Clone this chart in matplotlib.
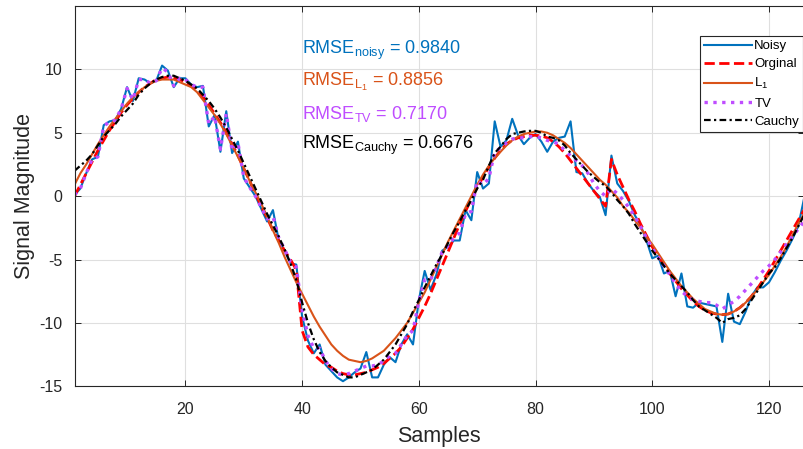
import numpy as np
import matplotlib
matplotlib.use("Agg")
import matplotlib.pyplot as plt

plt.rcParams['font.family'] = ['Liberation Sans', 'DejaVu Sans']
plt.rcParams['mathtext.default'] = 'regular'
plt.rcParams['axes.unicode_minus'] = False

samples = np.arange(1, 127)

noisy = [0.1, 0.6, 1.8, 2.9, 3.1, 5.6, 5.9, 6.0, 6.9, 8.6,
         7.5, 9.3, 9.2, 8.9, 9.1, 10.3, 9.9, 8.6, 9.3, 9.3,
         8.8, 8.6, 8.7, 5.5, 6.4, 3.5, 6.7, 3.4, 4.3, 1.4,
         0.7, 0.0, -1.0, -2.0, -1.1, -3.5, -4.3, -5.3, -5.4, -9.5,
         -11.4, -12.4, -11.7, -13.3, -13.8, -14.3, -14.6, -14.3, -13.9, -13.6,
         -12.3, -14.3, -14.3, -13.3, -12.7, -13.1, -11.7, -10.9, -11.7, -8.2,
         -5.9, -7.4, -6.2, -4.3, -4.0, -3.5, -3.5, -1.1, -1.9, 1.9,
         0.6, 1.0, 5.9, 3.9, 4.4, 6.1, 4.8, 4.1, 4.6, 4.9,
         4.3, 3.5, 4.3, 4.6, 4.7, 5.9, 1.9, 1.8, 1.0, 0.4,
         -0.05, -1.5, 3.2, 1.0, 0.4, -0.4, -1.5, -2.3, -3.5, -4.9,
         -4.7, -6.1, -5.9, -7.9, -6.1, -8.7, -8.8, -8.4, -8.5, -8.6,
         -8.7, -11.5, -7.7, -9.9, -10.1, -9.1, -7.9, -7.2, -7.2, -6.8,
         -6.0, -5.1, -4.3, -3.4, -2.4, -0.2]

original = [0.0, 0.9, 1.8, 2.7, 3.6, 4.4, 5.2, 5.9, 6.6, 7.2,
            7.7, 8.2, 8.6, 8.9, 9.2, 9.3, 9.4, 9.3, 9.2, 9.0,
            8.7, 8.3, 7.8, 7.2, 6.5, 5.8, 5.0, 4.1, 3.2, 2.2,
            1.2, 0.2, -0.8, -1.7, -2.7, -3.5, -4.3, -5.0, -5.8, -10.6,
            -11.9, -12.5, -12.9, -13.3, -13.5, -13.8, -14.0, -14.1, -14.1, -14.0,
            -13.9, -13.7, -13.5, -13.2, -12.8, -12.4, -11.9, -11.2, -10.5, -9.6,
            -8.7, -7.7, -6.6, -5.5, -4.4, -3.3, -2.2, -1.2, -0.2, 0.7,
            1.5, 2.3, 3.0, 3.6, 4.1, 4.4, 4.6, 4.7, 4.8, 4.8,
            4.75, 4.6, 4.3, 3.9, 3.4, 2.8, 2.2, 1.6, 1.0, 0.4,
            -0.2, -0.8, 2.9, 1.7, 0.7, -0.3, -1.2, -2.2, -3.1, -4.0,
            -4.7, -5.4, -6.1, -6.7, -7.3, -7.8, -8.3, -8.7, -9.0, -9.2,
            -9.3, -9.35, -9.3, -9.1, -8.8, -8.4, -7.9, -7.3, -6.6, -5.9,
            -5.1, -4.3, -3.5, -2.7, -1.9, -1.1]

l1 = [0.9, 1.8, 2.5, 3.3, 4.1, 4.8, 5.5, 6.1, 6.7, 7.3,
      7.8, 8.2, 8.6, 8.9, 9.1, 9.2, 9.2, 9.2, 9.0, 8.8,
      8.6, 8.2, 7.6, 7.0, 6.4, 5.7, 4.9, 4.0, 3.1, 2.2,
      1.2, 0.3, -0.6, -1.6, -2.7, -3.7, -4.8, -5.8, -6.8, -7.7,
      -8.6, -9.5, -10.3, -11.0, -11.7, -12.2, -12.6, -12.9, -13.0, -13.1,
      -13.0, -12.8, -12.5, -12.2, -11.7, -11.2, -10.6, -10.0, -9.2, -8.4,
      -7.6, -6.6, -5.6, -4.6, -3.6, -2.7, -1.8, -0.9, 0.0, 0.9,
      1.7, 2.4, 3.0, 3.5, 4.0, 4.4, 4.7, 4.9, 5.0, 5.1,
      5.1, 5.0, 4.8, 4.5, 4.2, 3.8, 3.3, 2.8, 2.3, 1.8,
      1.3, 0.9, 0.4, -0.1, -0.8, -1.3, -1.9, -2.5, -3.2, -3.8,
      -4.5, -5.2, -5.9, -6.5, -7.1, -7.6, -8.1, -8.5, -8.9, -9.1,
      -9.3, -9.35, -9.3, -9.1, -8.8, -8.4, -7.9, -7.4, -6.8, -6.2,
      -5.5, -4.8, -4.0, -3.1, -2.2, -1.4]

tv = [0.1, 0.6, 1.8, 2.9, 3.1, 5.5, 5.9, 6.0, 6.9, 8.5,
      7.6, 9.2, 9.2, 8.9, 9.1, 10.1, 9.8, 8.7, 9.3, 9.2,
      8.8, 8.6, 8.6, 5.7, 6.3, 3.7, 6.5, 3.6, 4.2, 1.5,
      0.7, 0.0, -0.9, -1.8, -1.6, -3.3, -4.2, -5.2, -5.6, -9.0,
      -11.0, -12.0, -12.0, -13.0, -13.6, -14.0, -14.1, -14.0, -13.8, -13.6,
      -13.4, -13.4, -13.3, -13.0, -12.6, -12.4, -11.7, -11.0, -10.6, -8.3,
      -6.6, -6.6, -5.6, -4.4, -3.9, -3.3, -2.9, -1.4, -1.2, 1.2,
      0.9, 1.4, 3.5, 3.8, 4.2, 4.5, 4.6, 4.6, 4.7, 4.7,
      4.6, 4.4, 4.3, 4.1, 3.6, 3.2, 2.8, 2.4, 1.8, 1.0,
      0.4, 0.0, 0.6, 0.2, -0.3, -0.9, -1.6, -2.4, -3.3, -4.1,
      -4.8, -5.5, -6.2, -6.9, -7.5, -7.9, -8.2, -8.3, -8.4, -8.4,
      -8.6, -8.9, -8.6, -8.3, -7.9, -7.4, -6.9, -6.4, -5.9, -5.5,
      -5.0, -4.4, -3.8, -3.2, -2.6, -2.0]

cauchy = [2.0, 2.4, 2.8, 3.3, 4.0, 4.7, 5.2, 5.7, 6.3, 6.8,
          7.3, 8.0, 8.5, 8.9, 9.2, 9.4, 9.5, 9.5, 9.3, 9.1,
          8.8, 8.5, 8.0, 7.5, 6.9, 6.2, 5.4, 4.5, 3.6, 2.6,
          1.6, 0.6, -0.4, -1.4, -2.3, -3.2, -4.2, -5.3, -6.6, -8.4,
          -10.0, -11.3, -12.3, -13.0, -13.5, -13.9, -14.1, -14.3, -14.3, -14.1,
          -13.9, -13.7, -13.3, -12.9, -12.3, -11.7, -10.9, -10.1, -9.1, -8.2,
          -7.2, -6.3, -5.4, -4.6, -3.7, -2.8, -2.0, -1.1, -0.3, 0.6,
          1.3, 2.4, 3.4, 3.9, 4.5, 4.9, 5.0, 5.1, 5.15, 5.15,
          5.0, 4.7, 4.6, 4.4, 4.0, 3.4, 2.9, 2.4, 1.9, 1.5,
          1.1, 0.8, 0.3, -0.3, -0.8, -1.4, -2.2, -2.9, -3.6, -4.3,
          -4.9, -5.5, -6.1, -6.6, -7.1, -7.6, -8.2, -8.7, -9.0, -9.3,
          -9.6, -10.0, -9.7, -9.6, -9.4, -8.9, -8.2, -7.5, -6.8, -6.1,
          -5.6, -4.9, -4.1, -3.3, -2.4, -1.5]

rmse_labels = [r'RMSE$_{noisy}$ = 0.9840', r'RMSE$_{L_1}$ = 0.8856',
               r'RMSE$_{TV}$ = 0.7170', r'RMSE$_{Cauchy}$ = 0.6676']
rmse_y = [11.5, 9.0, 6.5, 4.0]

c_blue = '#0072BD'
c_orange = '#D95319'
c_purple = '#BF4DFF'
c_axis = '#262626'

fig = plt.figure(figsize=(8.04, 4.49), dpi=100)
ax = fig.add_axes([0.0927, 0.1397, 0.9073, 0.8469])

ax.plot(samples, noisy, color=c_blue, lw=1.5, label='Noisy')
ax.plot(samples, original, color='red', lw=2, ls='--', label='Orginal')
ax.plot(samples, l1, color=c_orange, lw=1.5, label='L$_1$')
ax.plot(samples, tv, color=c_purple, lw=2.4, ls=':', label='TV')
ax.plot(samples, cauchy, color='black', lw=1.6, ls=(0, (3, 1.5, 1, 1.5)), label='Cauchy')

for lab, yy, col in zip(rmse_labels, rmse_y, [c_blue, c_orange, c_purple, 'black']):
    ax.text(40, yy, lab, color=col, fontsize=13, va='center', ha='left')

ax.set_xlim(1, 126)
ax.set_ylim(-15, 15)
ax.set_xticks([20, 40, 60, 80, 100, 120])
ax.set_yticks([-15, -10, -5, 0, 5, 10])
ax.grid(True, color='#dfdfdf', lw=0.8)
ax.set_axisbelow(True)
ax.tick_params(direction='in', length=4, width=0.7, colors=c_axis, labelsize=11.5,
               top=True, right=True)
ax.tick_params(axis='x', pad=11)
ax.tick_params(axis='y', pad=9)
for sp in ax.spines.values():
    sp.set_color(c_axis)
    sp.set_linewidth(0.8)

ax.set_xlabel('Samples', fontsize=15.5, color=c_axis, labelpad=7)
ax.set_ylabel('Signal Magnitude', fontsize=15.5, color=c_axis, labelpad=3)

leg = ax.legend(loc='upper right', bbox_to_anchor=(0.9986, 0.921), borderaxespad=0,
                fontsize=9.5, fancybox=False, framealpha=1, edgecolor=c_axis,
                handlelength=3.6, handletextpad=0.2, labelspacing=0.45,
                borderpad=0.3)
leg.get_frame().set_linewidth(0.8)

fig.savefig('out.png', dpi=100)
